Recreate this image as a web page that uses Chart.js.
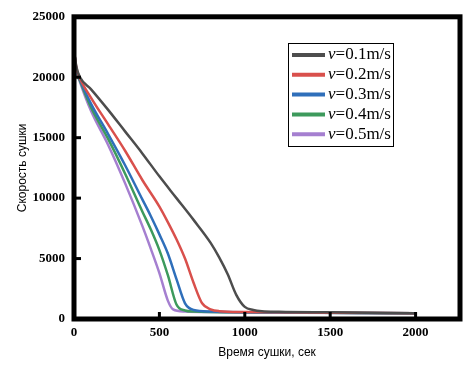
<!DOCTYPE html>
<html>
<head>
<meta charset="utf-8">
<script src="https://cdn.jsdelivr.net/npm/chart.js@4.4.0/dist/chart.umd.min.js"></script>
<style>
  html, body { margin: 0; padding: 0; background: #fff; }
  #wrap { width: 466px; height: 370px; }
</style>
</head>
<body>
<div id="wrap"><canvas id="chart"></canvas></div>
<script>
// данные
const labels = ["v=0.1m/s", "v=0.2m/s", "v=0.3m/s", "v=0.4m/s", "v=0.5m/s"];
const colors = ["#4d4d4d", "#d9504c", "#2f6fba", "#3d9a5c", "#a57fd0"];

const t1 = [0, 15, 35, 100, 200, 300, 400, 500, 600, 700, 800, 850, 900, 950, 1000, 1050, 1100, 1200, 1500, 2000];
const v1 = [22200, 20800, 20000, 19000, 17300, 15500, 13700, 11800, 10000, 8200, 6300, 5100, 3700, 2000, 1000, 750, 650, 600, 550, 480];

const t2 = [0, 15, 35, 100, 200, 300, 400, 500, 550, 600, 650, 700, 750, 800, 850, 1000, 1500, 2000];
const v2 = [22200, 20700, 19900, 18300, 16100, 13900, 11500, 9300, 8000, 6600, 5000, 3000, 1300, 800, 650, 580, 520, 480];

const t3 = [0, 15, 35, 100, 200, 300, 400, 450, 500, 550, 600, 650, 700, 800, 1000, 2000];
const v3 = [22200, 20600, 19800, 17800, 15300, 12700, 9900, 8500, 7000, 5400, 3300, 1300, 750, 620, 560, 480];

const t4 = [0, 15, 35, 100, 200, 300, 400, 450, 500, 550, 600, 650, 700, 1000, 2000];
const v4 = [22200, 20500, 19700, 17500, 14900, 12000, 8900, 7400, 5700, 3600, 1200, 700, 620, 550, 480];

const t5 = [0, 15, 35, 100, 200, 300, 400, 450, 500, 550, 580, 650, 800, 1000, 2000];
const v5 = [22200, 20500, 19600, 17200, 14400, 11200, 7700, 5800, 3800, 1500, 800, 620, 580, 540, 480];

const times = [t1, t2, t3, t4, t5];
const values = [v1, v2, v3, v4, v5];

const xTicks = [0, 500, 1000, 1500, 2000];
const yTicks = [0, 5000, 10000, 15000, 20000, 25000];

const datasets = labels.map((lab, i) => ({
  label: lab,
  data: times[i].map((t, j) => ({ x: t, y: values[i][j] })),
  borderColor: colors[i],
  backgroundColor: colors[i],
  borderWidth: 2.5,
  pointRadius: 0,
  cubicInterpolationMode: 'monotone',
  fill: false
}));

// рамка, внутренние засечки и легенда внутри поля
const framePlugin = {
  id: 'frame',
  afterDatasetsDraw(chart) {
    const { ctx, chartArea: a, scales } = chart;
    ctx.save();
    ctx.strokeStyle = '#000';
    ctx.lineWidth = 3;
    yTicks.forEach(v => {
      const y = scales.y.getPixelForValue(v);
      ctx.beginPath(); ctx.moveTo(a.left, y); ctx.lineTo(a.left + 7, y); ctx.stroke();
    });
    xTicks.forEach(v => {
      const x = scales.x.getPixelForValue(v);
      ctx.beginPath(); ctx.moveTo(x, a.bottom); ctx.lineTo(x, a.bottom - 7); ctx.stroke();
    });
    ctx.lineWidth = 5;
    ctx.strokeRect(a.left, a.top, a.right - a.left, a.bottom - a.top);

    // легенда
    const bx = 288, by = 43, bw = 105, bh = 103;
    ctx.lineWidth = 1;
    ctx.fillStyle = '#fff';
    ctx.fillRect(bx, by, bw, bh);
    ctx.strokeRect(bx + 0.5, by + 0.5, bw, bh);
    ctx.textBaseline = 'middle';
    labels.forEach((lab, i) => {
      const y = 55 + i * 19.8;
      ctx.strokeStyle = colors[i];
      ctx.lineWidth = 4;
      ctx.beginPath(); ctx.moveTo(292, y); ctx.lineTo(325, y); ctx.stroke();
      ctx.fillStyle = '#000';
      ctx.font = 'italic 17px "Liberation Serif"';
      ctx.fillText('v', 328, y);
      const w = ctx.measureText('v').width;
      ctx.font = '17px "Liberation Serif"';
      ctx.fillText(lab.slice(1), 328 + w, y);
    });
    ctx.restore();
  }
};

new Chart(document.getElementById('chart'), {
  type: 'line',
  data: { datasets: datasets },
  options: {
    responsive: true,
    maintainAspectRatio: false,
    animation: false,
    layout: { padding: { top: 14, right: 6, left: 0, bottom: 0 } },
    plugins: { legend: { display: false }, tooltip: { enabled: false } },
    scales: {
      x: {
        type: 'linear',
        min: 0,
        max: 2260,
        grid: { display: false, drawTicks: false },
        border: { display: false },
        afterFit: s => { s.height = 51; },
        afterBuildTicks: s => { s.ticks = xTicks.map(v => ({ value: v })); },
        ticks: {
          padding: 6,
          color: '#000',
          font: { family: '"Liberation Serif"', size: 13, weight: 'bold' },
          maxRotation: 0,
          callback: v => String(v)
        },
        title: {
          display: true,
          text: 'Время сушки, сек',
          color: '#000',
          font: { family: '"Liberation Sans"', size: 12 },
          padding: { top: 0, bottom: 10 }
        }
      },
      y: {
        min: 0,
        max: 25000,
        grid: { display: false, drawTicks: false },
        border: { display: false },
        afterFit: s => { s.width = 74; },
        afterBuildTicks: s => { s.ticks = yTicks.map(v => ({ value: v })); },
        ticks: {
          padding: 9,
          color: '#000',
          font: { family: '"Liberation Serif"', size: 13, weight: 'bold' },
          callback: v => String(v)
        },
        title: {
          display: true,
          text: 'Скорость сушки',
          color: '#000',
          font: { family: '"Liberation Sans"', size: 12 },
          padding: { top: 15, bottom: 0 }
        }
      }
    }
  },
  plugins: [framePlugin]
});
</script>
</body>
</html>
